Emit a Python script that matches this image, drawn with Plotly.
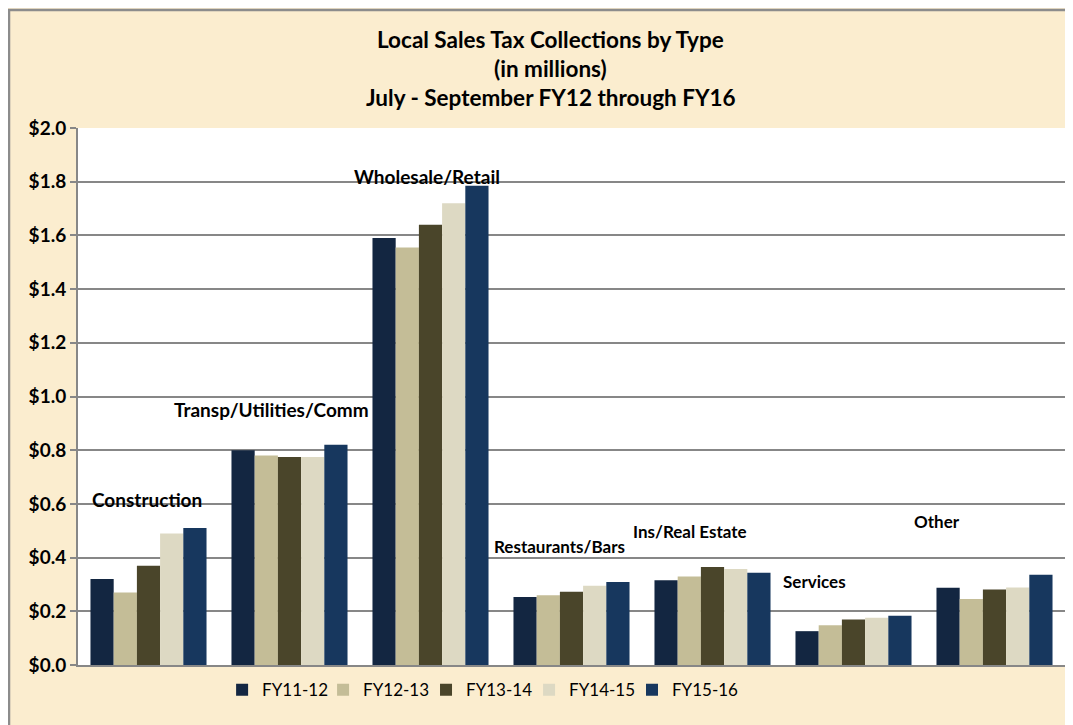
import plotly.graph_objects as go

categories = ["Construction", "Transp/Utilities/Comm", "Wholesale/Retail",
              "Restaurants/Bars", "Ins/Real Estate", "Services", "Other"]
series_names = ["FY11-12", "FY12-13", "FY13-14", "FY14-15", "FY15-16"]
fy11_12 = [0.32, 0.80, 1.59, 0.253, 0.316, 0.126, 0.288]
fy12_13 = [0.27, 0.78, 1.555, 0.260, 0.330, 0.148, 0.246]
fy13_14 = [0.37, 0.775, 1.64, 0.273, 0.365, 0.169, 0.281]
fy14_15 = [0.49, 0.775, 1.72, 0.295, 0.358, 0.176, 0.289]
fy15_16 = [0.51, 0.82, 1.785, 0.309, 0.344, 0.183, 0.336]
series_values = [fy11_12, fy12_13, fy13_14, fy14_15, fy15_16]
colors = ["#132641", "#C4BD97", "#4A452A", "#DDD9C3", "#17375E"]

title_lines = ["Local Sales Tax Collections by Type", "(in millions)",
               "July - September FY12 through FY16"]

# label placement (style): y in data units, x shift in px from category centre
label_y = [0.615, 0.950, 1.821, 0.441, 0.496, 0.310, 0.534]
label_dx = [-2, -18, -4, -12, -23, -39, -58]
label_size = [19, 19, 19, 17, 17, 17, 17]
# legend entry positions (style, paper x)
legend_x = [0.1460, 0.2483, 0.3526, 0.4570, 0.5613]

FONT = "Lato"

fig = go.Figure()
legend_ids = ["legend"] + [f"legend{i}" for i in range(2, len(series_names) + 1)]
for name, vals, col, lid in zip(series_names, series_values, colors, legend_ids):
    fig.add_trace(go.Bar(x=categories, y=vals, name=name, legend=lid,
                         marker=dict(color=col, line=dict(width=0))))

annotations = []
for i, line in enumerate(title_lines):
    annotations.append(dict(text=f"<b>{line}</b>", xref="paper", yref="paper",
                            x=0.479, y=[1.164, 1.110, 1.056][i], showarrow=False,
                            xanchor="center", yanchor="middle",
                            font=dict(family=FONT, size=22.5, color="#000000")))
for cat, ly, dx, fs in zip(categories, label_y, label_dx, label_size):
    annotations.append(dict(text=f"<b>{cat}</b>", xref="x", yref="y", x=cat, y=ly,
                            xshift=dx, showarrow=False, xanchor="center", yanchor="middle",
                            font=dict(family=FONT, size=fs, color="#000000")))

legend_layout = {}
for lid, lx in zip(legend_ids, legend_x):
    legend_layout[lid] = dict(orientation="h", x=lx, xanchor="left", y=-0.047,
                              yanchor="middle",
                              font=dict(family=FONT, size=17, color="#000000"),
                              bgcolor="rgba(0,0,0,0)", itemwidth=30)

fig.update_layout(
    width=1065, height=717,
    margin=dict(l=70, r=8, t=120, b=60),
    paper_bgcolor="#FBEDCF",
    plot_bgcolor="#FFFFFF",
    barmode="group", bargap=0.177, bargroupgap=0,
    showlegend=True,
    annotations=annotations,
    font=dict(family=FONT),
    shapes=[
        dict(type="line", xref="paper", yref="paper", x0=-0.0715, x1=1.01, y0=1.2197, y1=1.2197,
             line=dict(color="#8C8C8C", width=2.5)),
        dict(type="line", xref="paper", yref="paper", x0=-0.0699, x1=-0.0699, y0=1.2197, y1=-0.2,
             line=dict(color="#8C8C8C", width=2.5)),
    ],
    **legend_layout,
)
fig.update_xaxes(showticklabels=False, showline=True, linecolor="#878787", linewidth=2,
                 ticks="", showgrid=False, zeroline=False)
fig.update_yaxes(range=[0, 2], dtick=0.2, tickprefix="$", tickformat=".1f",
                 showgrid=True, gridcolor="#878787", gridwidth=2,
                 showline=True, linecolor="#878787", linewidth=2,
                 ticks="outside", ticklen=6, tickcolor="#878787", tickwidth=2,
                 zeroline=False,
                 tickfont=dict(family=FONT, size=19, color="#000000", weight="bold"))

fig.write_html("out.html")
